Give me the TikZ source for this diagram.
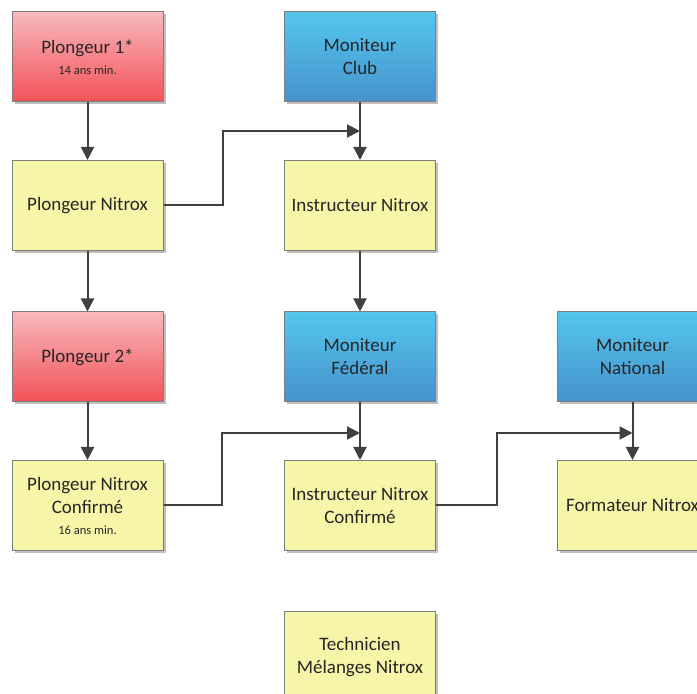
\documentclass[tikz,border=0pt]{standalone}
\usepackage{fontspec}
\setmainfont{Carlito}
\usetikzlibrary{arrows.meta,shadows}
\definecolor{redtop}{RGB}{247,184,188}
\definecolor{redbot}{RGB}{242,82,88}
\definecolor{bluetop}{RGB}{84,198,238}
\definecolor{bluebot}{RGB}{70,146,204}
\definecolor{yel}{RGB}{247,245,168}
\definecolor{edge}{RGB}{125,125,125}
\definecolor{wire}{RGB}{64,64,64}
\newcommand{\smalltxt}[1]{{\fontsize{12.5}{15}\selectfont #1}}
\begin{document}
\begin{tikzpicture}[x=1pt,y=1pt,
  box/.style={draw=edge,line width=1pt,minimum width=151pt,minimum height=90pt,
    inner sep=2pt,align=center,font=\fontsize{19}{23}\selectfont,text=black!85,
    drop shadow={shadow xshift=2.5pt,shadow yshift=-2.5pt,opacity=.25,fill=black}},
  redbox/.style={box,top color=redtop,bottom color=redbot},
  bluebox/.style={box,top color=bluetop,bottom color=bluebot},
  yelbox/.style={box,fill=yel},
  arr/.style={draw=wire,line width=2pt,-{Triangle[length=13pt,width=13pt]}}]
\clip (0,0) rectangle (697,694);
\useasboundingbox (0,0) rectangle (697,694);
% first column
\node[redbox] (plongeurA) at (87.5,637) {Plongeur 1*\\[-2pt]\smalltxt{14 ans min.}};
\node[yelbox] (plongeurNx) at (87.5,488.5) {Plongeur Nitrox};
\node[redbox] (plongeurB) at (87.5,337) {Plongeur 2*};
\node[yelbox] (plongeurNxC) at (87.5,188.5) {Plongeur Nitrox\\Confirmé\\[-2pt]\smalltxt{16 ans min.}};
% second column
\node[bluebox] (monClub) at (360,637) {Moniteur\\Club};
\node[yelbox] (instrNx) at (360,488.5) {Instructeur Nitrox};
\node[bluebox] (monFed) at (360,337) {Moniteur\\Fédéral};
\node[yelbox] (instrNxC) at (360,188.5) {Instructeur Nitrox\\Confirmé};
\node[yelbox] (techNx) at (360,37) {Technicien\\Mélanges Nitrox};
% third column
\node[bluebox] (monNat) at (632.5,337) {Moniteur\\National};
\node[yelbox] (formNx) at (632.5,188.5) {Formateur Nitrox};
% vertical links
\draw[arr] (plongeurA) -- (plongeurNx);
\draw[arr] (plongeurNx) -- (plongeurB);
\draw[arr] (plongeurB) -- (plongeurNxC);
\draw[arr] (monClub) -- (instrNx);
\draw[arr] (instrNx) -- (monFed);
\draw[arr] (monFed) -- (instrNxC);
\draw[arr] (monNat) -- (formNx);
% elbow links
\coordinate (jClub) at (360,563);
\coordinate (jFed) at (360,261);
\coordinate (jNat) at (632.5,261);
\draw[arr] (plongeurNx.east) -- ++(59,0) |- (jClub);
\draw[arr] (plongeurNxC.east) -- ++(58,0) |- (jFed);
\draw[arr] (instrNxC.east) -- ++(61,0) |- (jNat);
\end{tikzpicture}
\end{document}
